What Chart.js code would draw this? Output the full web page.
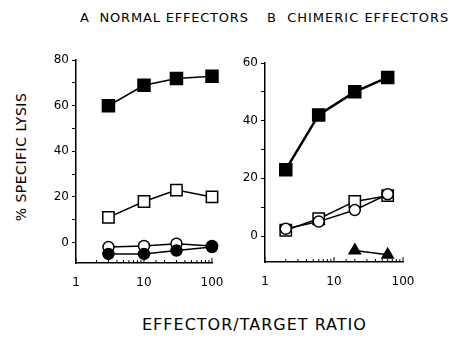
<!DOCTYPE html>
<html>
<head>
<meta charset="utf-8">
<script src="https://cdn.jsdelivr.net/npm/chart.js@4/dist/chart.umd.min.js"></script>
<style>
  body { margin: 0; background: #fff; width: 449px; height: 341px; overflow: hidden; position: relative; font-family: "DejaVu Sans", sans-serif; color: #000; }
  canvas { position: absolute; }
  .lbl { position: absolute; white-space: pre; font-size: 13px; letter-spacing: 0.8px; }
</style>
</head>
<body>
<div class="lbl" style="left:80px; top:10px;">A  NORMAL EFFECTORS</div>
<div class="lbl" style="left:267px; top:10px; letter-spacing:1px;">B  CHIMERIC EFFECTORS</div>
<div class="lbl" style="left:21px; top:157px; font-size:14px; letter-spacing:0.5px; transform: translate(-50%,-50%) rotate(-90deg);">% SPECIFIC LYSIS</div>
<div class="lbl" style="left:142px; top:315px; font-size:16px; letter-spacing:1px;">EFFECTOR/TARGET RATIO</div>
<canvas id="chartA" width="200" height="245" style="left:40px; top:50px;"></canvas>
<canvas id="chartB" width="200" height="245" style="left:229px; top:50px;"></canvas>
<script>
// Panel A: normal effectors
const ratioA = [3, 10, 30, 100];
const filledSquareA = [60, 69, 72, 73];
const openSquareA = [11, 18, 23, 20];
const openCircleA = [-2, -1.5, -0.5, -1.5];
const filledCircleA = [-5, -5, -3.5, -2];

// Panel B: chimeric effectors
const ratioB = [2, 6, 20, 60];
const filledSquareB = [23, 42, 50, 55];
const openSquareB = [2, 6, 12, 14];
const openCircleB = [2.5, 5, 9, 14.5];
const ratioTriB = [20, 60];
const triangleB = [-5, -6.5];

const xTickLabels = [1, 10, 100];

function pts(xs, ys) {
    return xs.map((x, i) => ({ x: x, y: ys[i] }));
}

function series(xs, ys, style, fill, radius, lineWidth) {
    return {
        data: pts(xs, ys),
        borderColor: '#000',
        borderWidth: lineWidth,
        pointStyle: style,
        pointRadius: radius,
        pointBackgroundColor: fill,
        pointBorderColor: '#000',
        pointBorderWidth: 1.5,
        tension: 0,
        clip: false
    };
}

// draws the x ticks pointing up into the plot
const innerTicks = {
    id: 'innerTicks',
    afterDraw(chart) {
        const ctx = chart.ctx;
        const xs = chart.scales.x;
        const bottom = chart.chartArea.bottom;
        ctx.save();
        ctx.strokeStyle = '#000';
        ctx.lineWidth = 1;
        xs.ticks.forEach(t => {
            const px = xs.getPixelForValue(t.value);
            const major = xTickLabels.includes(t.value);
            ctx.beginPath();
            ctx.moveTo(px, bottom);
            ctx.lineTo(px, bottom - (major ? 5 : 3));
            ctx.stroke();
        });
        ctx.restore();
    }
};

function makeChart(id, datasets, yMax, pad) {
    return new Chart(document.getElementById(id), {
        type: 'line',
        data: { datasets: datasets },
        options: {
            responsive: false,
            animation: false,
            layout: { padding: pad },
            plugins: { legend: { display: false }, tooltip: { enabled: false } },
            scales: {
                x: {
                    type: 'logarithmic',
                    min: 1,
                    max: 100,
                    afterFit: s => { s.height = pad.xh; },
                    grid: { display: false },
                    border: { color: '#000', width: 1.5 },
                    ticks: {
                        autoSkip: false,
                        maxRotation: 0,
                        padding: 5,
                        color: '#000',
                        font: { family: 'DejaVu Sans', size: 12 },
                        callback: v => xTickLabels.includes(v) ? String(v) : ''
                    }
                },
                y: {
                    min: -9,
                    max: yMax,
                    afterFit: s => { s.width = 36; },
                    grid: { drawOnChartArea: false, tickLength: 4, color: '#000' },
                    border: { color: '#000', width: 1.5 },
                    ticks: {
                        stepSize: 10,
                        includeBounds: false,
                        padding: 3,
                        color: '#000',
                        font: { family: 'DejaVu Sans', size: 12 },
                        callback: v => v % 20 === 0 ? String(v) : ''
                    }
                }
            }
        },
        plugins: [innerTicks]
    });
}

makeChart('chartA', [
    series(ratioA, filledCircleA, 'circle', '#000', 5.5, 1.5),
    series(ratioA, openCircleA, 'circle', '#fff', 5.5, 1.5),
    series(ratioA, filledSquareA, 'rect', '#000', 8.5, 1.5),
    series(ratioA, openSquareA, 'rect', '#fff', 8, 1.5)
], 80, { top: 7, right: 28, left: 0, bottom: 0, xh: 32 });

makeChart('chartB', [
    series(ratioB, openCircleB, 'circle', '#fff', 5.5, 1.5),
    series(ratioB, openSquareB, 'rect', '#fff', 8, 1.5),
    series(ratioB, filledSquareB, 'rect', '#000', 8.5, 2.5),
    series(ratioTriB, triangleB, 'triangle', '#000', 6.5, 1.5)
], 60, { top: 13, right: 26, left: 0, bottom: 0, xh: 33 });
</script>
</body>
</html>
